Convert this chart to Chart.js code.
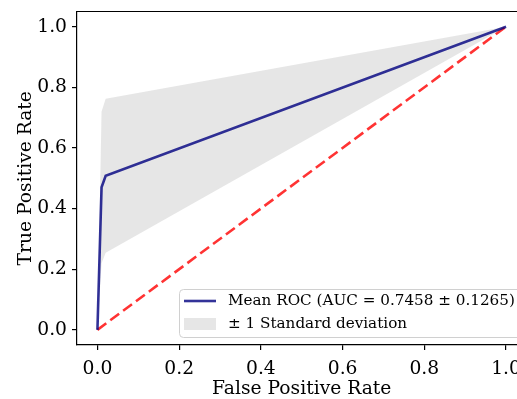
<!DOCTYPE html>
<html>
<head>
<meta charset="utf-8">
<script src="https://cdn.jsdelivr.net/npm/chart.js@4.4.1/dist/chart.umd.min.js"></script>
<style>
  html, body { margin: 0; padding: 0; background: #fff; overflow: hidden; }
  #wrap { width: 540px; height: 399px; position: relative; }
</style>
</head>
<body>
<div id="wrap"><canvas id="roc"></canvas></div>
<script>
// values
const meanFpr = [0, 0.0101, 0.0202, 1];
const meanTpr = [0, 0.47, 0.508, 1];
const upperTpr = [0, 0.72, 0.762, 1];
const lowerTpr = [0, 0.22, 0.254, 1];
const chanceFpr = [0, 1];
const chanceTpr = [0, 1];
const tickValues = [0, 0.2, 0.4, 0.6, 0.8, 1.0];
const tickLabels = ['0.0', '0.2', '0.4', '0.6', '0.8', '1.0'];
const legendLabels = ['Mean ROC (AUC = 0.7458 \u00b1 0.1265)', '\u00b1 1 Standard deviation'];

const serif = "'DejaVu Serif', serif";
const meanColor = 'rgba(0, 0, 128, 0.8)';
const chanceColor = 'rgba(255, 0, 0, 0.8)';
const bandColor = 'rgba(128, 128, 128, 0.2)';

const toPoints = (xs, ys) => xs.map((x, i) => ({ x: x, y: ys[i] }));

// top spine, axis titles and a matplotlib-like legend
const extras = {
    id: 'extras',
    afterDraw(chart) {
        const ctx = chart.ctx;
        const area = chart.chartArea;
        ctx.save();
        ctx.strokeStyle = '#000';
        ctx.lineWidth = 1.2;
        ctx.beginPath();
        ctx.moveTo(area.left, area.top);
        ctx.lineTo(area.right, area.top);
        ctx.stroke();

        ctx.fillStyle = '#000';
        ctx.font = '18.7px ' + serif;
        ctx.textAlign = 'center';
        ctx.textBaseline = 'alphabetic';
        ctx.fillText('False Positive Rate', (area.left + area.right) / 2, 394);
        ctx.translate(31, (area.top + area.bottom) / 2);
        ctx.rotate(-Math.PI / 2);
        ctx.fillText('True Positive Rate', 0, 0);
        ctx.restore();

        // legend
        ctx.save();
        const bx = 179.5, by = 289.5, bw = 342, bh = 48, r = 4;
        ctx.beginPath();
        ctx.moveTo(bx + r, by);
        ctx.arcTo(bx + bw, by, bx + bw, by + bh, r);
        ctx.arcTo(bx + bw, by + bh, bx, by + bh, r);
        ctx.arcTo(bx, by + bh, bx, by, r);
        ctx.arcTo(bx, by, bx + bw, by, r);
        ctx.closePath();
        ctx.fillStyle = 'rgba(255,255,255,0.8)';
        ctx.fill();
        ctx.strokeStyle = '#d0d0d0';
        ctx.lineWidth = 1;
        ctx.stroke();

        ctx.strokeStyle = meanColor;
        ctx.lineWidth = 2.6;
        ctx.beginPath();
        ctx.moveTo(184, 301);
        ctx.lineTo(216, 301);
        ctx.stroke();
        ctx.fillStyle = bandColor;
        ctx.fillRect(184, 318, 32, 12);

        ctx.fillStyle = '#000';
        ctx.font = '15.2px ' + serif;
        ctx.textAlign = 'left';
        ctx.textBaseline = 'middle';
        ctx.fillText(legendLabels[0], 228, 301);
        ctx.fillText(legendLabels[1], 228, 324);
        ctx.restore();
    }
};

const setTicks = scale => { scale.ticks = tickValues.map(v => ({ value: v })); };
const tickFormat = value => {
    const i = tickValues.findIndex(v => Math.abs(v - value) < 1e-9);
    return i >= 0 ? tickLabels[i] : '';
};

new Chart(document.getElementById('roc'), {
    type: 'line',
    data: {
        datasets: [
            {
                label: legendLabels[0],
                data: toPoints(meanFpr, meanTpr),
                borderColor: meanColor,
                borderWidth: 2.6,
                pointRadius: 0,
                fill: false,
                order: 0
            },
            {
                label: 'Chance',
                data: toPoints(chanceFpr, chanceTpr),
                borderColor: chanceColor,
                borderWidth: 2.6,
                borderDash: [11, 5],
                pointRadius: 0,
                fill: false,
                order: 1
            },
            {
                label: legendLabels[1],
                data: toPoints(meanFpr, upperTpr),
                borderWidth: 0,
                borderColor: 'rgba(0,0,0,0)',
                backgroundColor: bandColor,
                pointRadius: 0,
                fill: '+1',
                order: 2
            },
            {
                label: 'lower',
                data: toPoints(meanFpr, lowerTpr),
                borderWidth: 0,
                borderColor: 'rgba(0,0,0,0)',
                pointRadius: 0,
                fill: false,
                order: 3
            }
        ]
    },
    options: {
        responsive: true,
        maintainAspectRatio: false,
        animation: false,
        layout: { padding: { top: 11.5, right: 13.5, left: 0, bottom: 0 } },
        plugins: {
            legend: { display: false },
            tooltip: { enabled: false }
        },
        scales: {
            x: {
                type: 'linear',
                min: -0.05,
                max: 1.05,
                afterBuildTicks: setTicks,
                afterFit: scale => {
                    scale.height = 54;
                    scale.paddingLeft = 0;
                    scale.paddingRight = 0;
                },
                grid: { drawOnChartArea: false, drawTicks: true, tickLength: 5, color: '#000', lineWidth: 1.2 },
                border: { display: true, color: '#000', width: 1.2 },
                ticks: {
                    color: '#000',
                    font: { family: serif, size: 18.7 },
                    padding: 8,
                    maxRotation: 0,
                    autoSkip: false,
                    callback: tickFormat
                }
            },
            y: {
                type: 'linear',
                min: -0.05,
                max: 1.05,
                afterBuildTicks: setTicks,
                afterFit: scale => {
                    scale.width = 77;
                    scale.paddingTop = 0;
                    scale.paddingBottom = 0;
                },
                grid: { drawOnChartArea: false, drawTicks: true, tickLength: 5, color: '#000', lineWidth: 1.2 },
                border: { display: true, color: '#000', width: 1.2 },
                ticks: {
                    color: '#000',
                    font: { family: serif, size: 18.7 },
                    padding: 5,
                    autoSkip: false,
                    callback: tickFormat
                }
            }
        }
    },
    plugins: [extras]
});
</script>
</body>
</html>
